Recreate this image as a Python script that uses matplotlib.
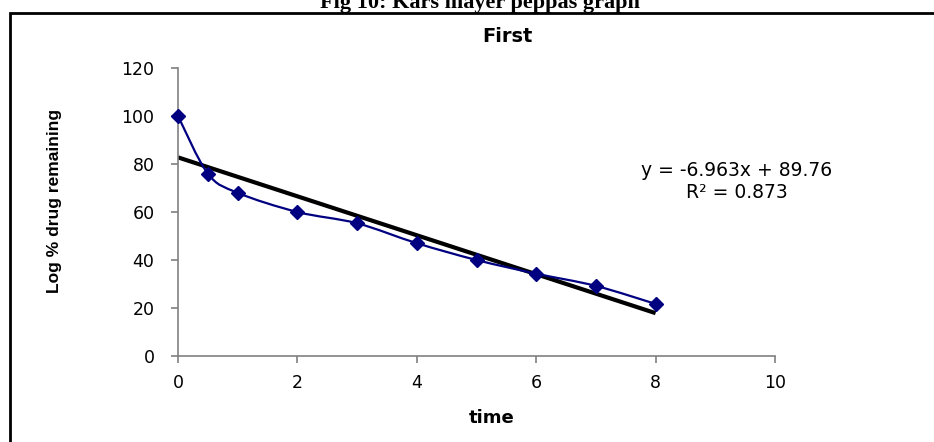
import numpy as np
import matplotlib
matplotlib.use("Agg")
import matplotlib.pyplot as plt
from matplotlib.path import Path
from matplotlib.patches import PathPatch, Rectangle

# ---- data ----
time = [0, 0.5, 1, 2, 3, 4, 5, 6, 7, 8]
remaining = [100, 76, 68, 60, 55.3, 47, 40, 34.3, 29.2, 21.7]
x_ticks = [0, 2, 4, 6, 8, 10]
y_ticks = [0, 20, 40, 60, 80, 100, 120]
eq_text = "y = -6.963x + 89.76"
r2_text = "R\u00b2 = 0.873"
chart_title = "First"
fig_title = "Fig 10: Kars mayer peppas graph"
x_label = "time"
y_label = "Log % drug remaining"

W, H = 934, 442
fig = plt.figure(figsize=(W / 100, H / 100), dpi=100)
fig.patch.set_facecolor("white")

wide = ["DejaVu Sans"]
sans = ["Liberation Sans", "DejaVu Sans"]

ax = fig.add_axes([178 / W, 1 - 356 / H, (775 - 178) / W, (356 - 68) / H])
ax.set_xlim(0, 10)
ax.set_ylim(0, 120)
ax.set_xticks(x_ticks)
ax.set_yticks(y_ticks)
ax.set_xticklabels([str(v) for v in x_ticks], family=wide, fontsize=12.5)
ax.set_yticklabels([str(v) for v in y_ticks], family=wide, fontsize=12.5)
for s in ["top", "right"]:
    ax.spines[s].set_visible(False)
for s in ["left", "bottom"]:
    ax.spines[s].set_color("#808080")
    ax.spines[s].set_linewidth(1.2)
ax.tick_params(direction="out", length=5, width=1.2, color="#808080", labelcolor="black")
ax.tick_params(axis="x", pad=8)
ax.tick_params(axis="y", pad=12)

# smoothed line (Catmull-Rom as cubic Bezier)
xs = np.array(time, float)
ys = np.array(remaining, float)
n = len(xs)
verts = [(xs[0], ys[0])]
codes = [Path.MOVETO]
t = 1 / 6
for i in range(n - 1):
    p0 = np.array([xs[max(i - 1, 0)], ys[max(i - 1, 0)]])
    p1 = np.array([xs[i], ys[i]])
    p2 = np.array([xs[i + 1], ys[i + 1]])
    p3 = np.array([xs[min(i + 2, n - 1)], ys[min(i + 2, n - 1)]])
    c1 = p1 + (p2 - p0) * t
    c2 = p2 - (p3 - p1) * t
    verts += [tuple(c1), tuple(c2), tuple(p2)]
    codes += [Path.CURVE4] * 3
ax.add_patch(PathPatch(Path(verts, codes), facecolor="none", edgecolor="#000080", lw=1.6, zorder=3))
ax.plot(time, remaining, linestyle="none", marker="D", markersize=7.5, color="#000080", zorder=4, clip_on=False)

# linear trend line
slope, intercept = np.polyfit(xs, ys, 1)
tx = np.array([xs.min(), xs.max()])
ax.plot(tx, slope * tx + intercept, color="black", lw=3, zorder=2, solid_capstyle="butt")

fig.text(737 / W, 1 - 170 / H, eq_text, ha="center", va="center", fontsize=13.5, family=wide)
fig.text(737 / W, 1 - 193 / H, r2_text, ha="center", va="center", fontsize=13.5, family=wide)

fig.text(507 / W, 1 - 37 / H, chart_title, ha="center", va="center", fontsize=14,
         fontweight="bold", family=wide)
fig.text(492 / W, 1 - 418 / H, x_label, ha="center", va="center", fontsize=13,
         fontweight="bold", family=wide)
fig.text(55 / W, 1 - 201 / H, y_label, ha="center", va="center", rotation=90, fontsize=12.5,
         fontweight="bold", family=sans)
fig.text(480 / W, 1 - 8 / H, fig_title, ha="center", va="baseline", fontsize=16,
         fontweight="bold", family=["Liberation Serif", "DejaVu Serif"])

# outer frame
fig.add_artist(Rectangle((10 / W, -0.1), 1.2, (H - 12.5) / H + 0.1, transform=fig.transFigure,
                         facecolor="none", edgecolor="black", lw=2))

fig.savefig("out.png", dpi=100)
